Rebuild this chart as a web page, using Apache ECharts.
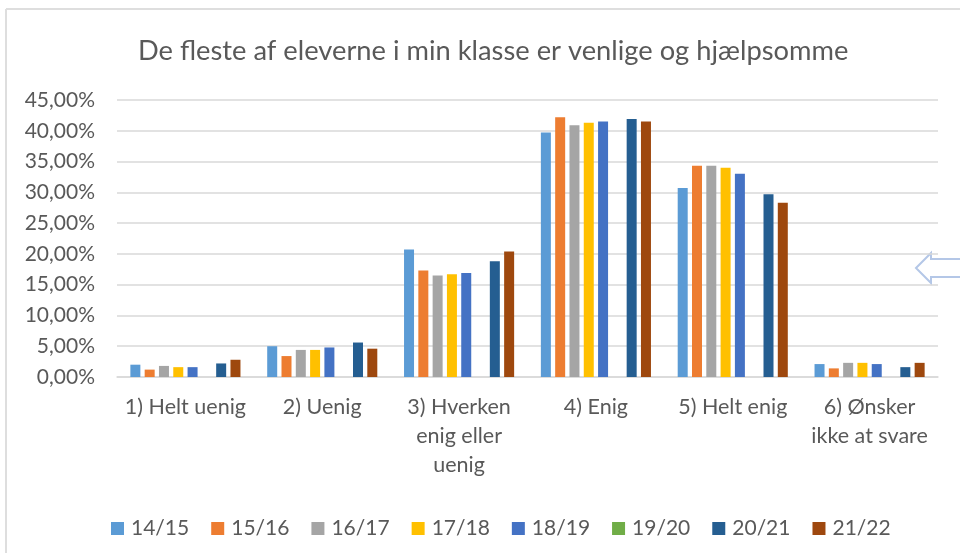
<!DOCTYPE html>
<html>
<head>
<meta charset="utf-8">
<script src="https://cdn.jsdelivr.net/npm/echarts@6/dist/echarts.min.js"></script>
<style>
    html,
    body {
        margin: 0;
        padding: 0;
        background: #ffffff;
    }
    #chart {
        width: 960px;
        height: 553px;
    }
</style>
</head>
<body>
<div id="chart"></div>
<script>
// kategorier og aargange
const categories = [
    '1) Helt uenig',
    '2) Uenig',
    '3) Hverken\nenig eller\nuenig',
    '4) Enig',
    '5) Helt enig',
    '6) Ønsker\nikke at svare'
]
const years = ['14/15', '15/16', '16/17', '17/18', '18/19', '19/20', '20/21', '21/22']
// andele i procent, aflaest fra figuren
const v1415 = [2.0, 5.0, 20.7, 39.7, 30.7, 2.1]
const v1516 = [1.2, 3.4, 17.3, 42.2, 34.3, 1.4]
const v1617 = [1.8, 4.4, 16.5, 40.9, 34.3, 2.3]
const v1718 = [1.6, 4.4, 16.7, 41.3, 34.0, 2.3]
const v1819 = [1.6, 4.8, 16.9, 41.5, 33.0, 2.1]
const v1920 = [0, 0, 0, 0, 0, 0]
const v2021 = [2.2, 5.6, 18.8, 41.9, 29.7, 1.6]
const v2122 = [2.8, 4.6, 20.4, 41.5, 28.3, 2.3]
const yTicks = { min: 0, max: 45, interval: 5 }

const values = [v1415, v1516, v1617, v1718, v1819, v1920, v2021, v2122]
const colors = ['#5b9bd5', '#ed7d31', '#a5a5a5', '#ffc000', '#4472c4', '#70ad47', '#255e91', '#9e480e']
const textColor = '#595959'
const font = 'Lato'

const myChart = echarts.init(document.getElementById('chart'))
const option = {
    animation: false,
    title: {
        text: 'De fleste af eleverne i min klasse er venlige og hjælpsomme',
        left: 133,
        top: 33,
        textStyle: {
            color: textColor,
            fontFamily: font,
            fontWeight: 'normal',
            fontSize: 27.3
        }
    },
    legend: {
        data: years,
        left: 106,
        top: 513,
        itemWidth: 13,
        itemHeight: 13,
        itemGap: 22,
        icon: 'rect',
        textStyle: {
            color: textColor,
            fontFamily: font,
            fontSize: 21,
            width: 60,
            padding: [0, 0, 0, 2]
        }
    },
    grid: {
        left: 117,
        right: 22,
        top: 100,
        bottom: 176,
        containLabel: false
    },
    xAxis: {
        type: 'category',
        data: categories,
        axisTick: { show: false },
        axisLine: { lineStyle: { color: '#d9d9d9', width: 1.5 } },
        axisLabel: {
            color: textColor,
            fontFamily: font,
            fontSize: 21.5,
            lineHeight: 29,
            margin: 16,
            interval: 0
        }
    },
    yAxis: {
        type: 'value',
        min: yTicks.min,
        max: yTicks.max,
        interval: yTicks.interval,
        axisLine: { show: false },
        axisTick: { show: false },
        splitLine: { lineStyle: { color: '#d9d9d9', width: 1.5 } },
        axisLabel: {
            color: textColor,
            fontFamily: font,
            fontSize: 21,
            margin: 22,
            formatter: (val) => val.toFixed(2).replace('.', ',') + '%'
        }
    },
    graphic: [
        // ramme oeverst og til venstre
        {
            type: 'line',
            shape: { x1: 6, y1: 9, x2: 960, y2: 9 },
            style: { stroke: '#dedede', lineWidth: 2 }
        },
        {
            type: 'line',
            shape: { x1: 6, y1: 9, x2: 6, y2: 553 },
            style: { stroke: '#dedede', lineWidth: 2 }
        },
        // pil i hoejre side
        {
            type: 'polygon',
            shape: {
                points: [
                    [916, 268],
                    [931, 253],
                    [931, 259],
                    [966, 259],
                    [966, 277],
                    [931, 277],
                    [931, 283]
                ]
            },
            style: { fill: '#ffffff', stroke: '#b4c7e7', lineWidth: 2 }
        }
    ],
    series: []
}

years.forEach((year, i) => {
    option.series.push({
        name: year,
        type: 'bar',
        data: values[i],
        barWidth: 10,
        barGap: '43%',
        itemStyle: { color: colors[i] }
    })
})

myChart.setOption(option)
</script>
</body>
</html>
